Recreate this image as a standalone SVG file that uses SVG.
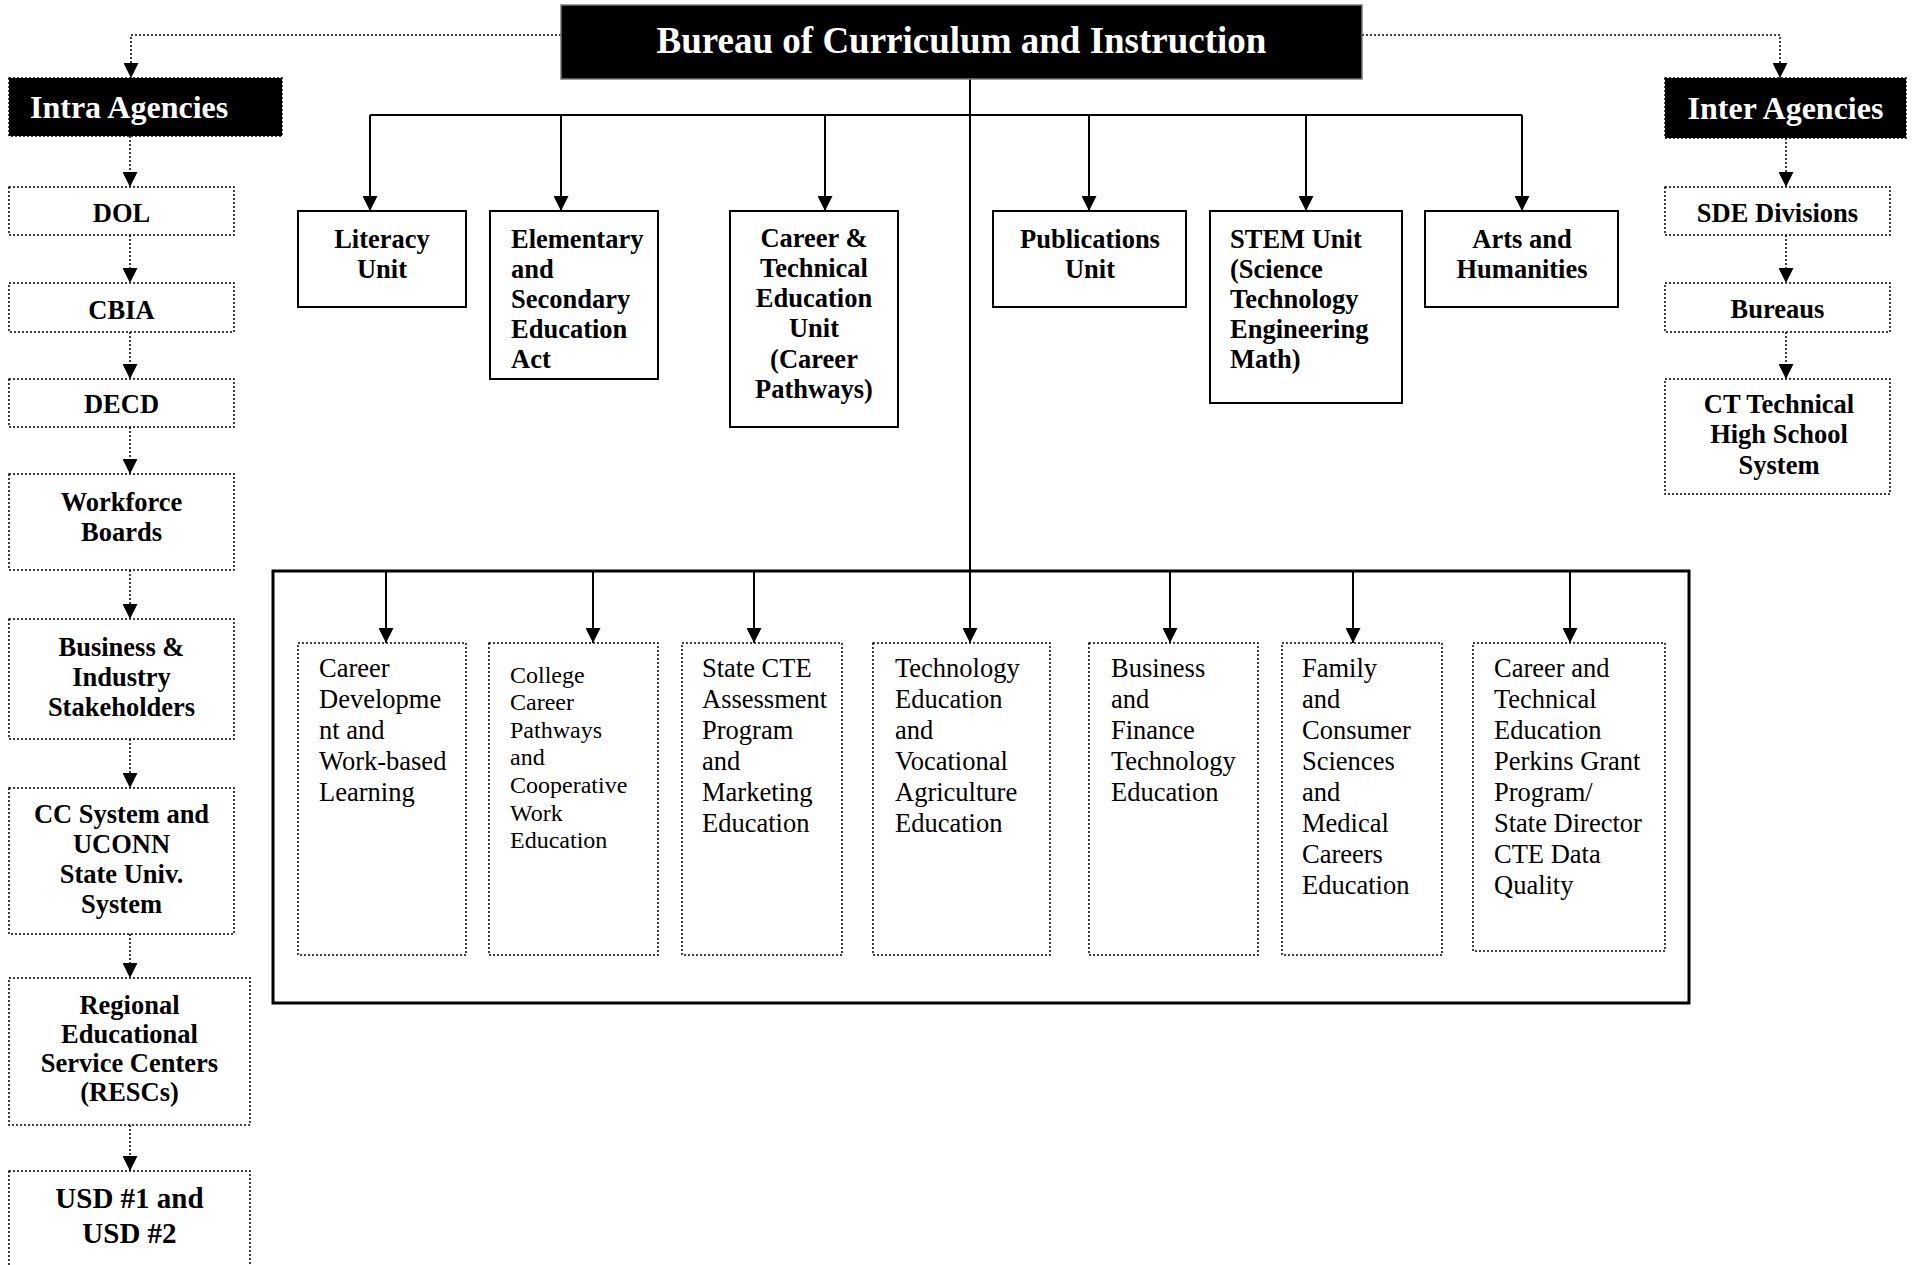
<svg xmlns="http://www.w3.org/2000/svg" width="1913" height="1265" viewBox="0 0 1913 1265">
<defs>
<marker id="ah" markerWidth="15" markerHeight="15" refX="15" refY="7.5" orient="auto" markerUnits="userSpaceOnUse">
<path d="M0,0 L15,7.5 L0,15 z" fill="#000"/>
</marker>
</defs>
<style>
.b{font-family:"Liberation Serif","Times New Roman",serif;font-weight:bold;font-size:26.5px;fill:#000}
.r{font-family:"Liberation Serif","Times New Roman",serif;font-size:26.5px;fill:#000}
.s{font-size:24px}
.c{text-anchor:middle}
.w{fill:#fff}
.solid{fill:#fff;stroke:#000;stroke-width:2}
.dot{fill:#fff;stroke:#000;stroke-width:1.5;stroke-dasharray:2,2}
.dark{fill:#000;stroke:#000;stroke-width:1.5;stroke-dasharray:2,2}
.ln{fill:none;stroke:#000;stroke-width:2}
.dl{fill:none;stroke:#000;stroke-width:1.5;stroke-dasharray:2,2}
</style>
<rect width="1913" height="1265" fill="#fff"/>

<g id="connectors">
<path class="dl" d="M561,35 H131 V78" marker-end="url(#ah)"/>
<path class="dl" d="M1362,35 H1780 V78" marker-end="url(#ah)"/>
<path class="dl" d="M130,136 V187" marker-end="url(#ah)"/>
<path class="dl" d="M130,235 V283" marker-end="url(#ah)"/>
<path class="dl" d="M130,332 V379" marker-end="url(#ah)"/>
<path class="dl" d="M130,427 V474" marker-end="url(#ah)"/>
<path class="dl" d="M130,570 V619" marker-end="url(#ah)"/>
<path class="dl" d="M130,739 V788" marker-end="url(#ah)"/>
<path class="dl" d="M130,934 V978" marker-end="url(#ah)"/>
<path class="dl" d="M130,1125 V1171" marker-end="url(#ah)"/>
<path class="dl" d="M1786,138 V187" marker-end="url(#ah)"/>
<path class="dl" d="M1786,235 V283" marker-end="url(#ah)"/>
<path class="dl" d="M1786,332 V379" marker-end="url(#ah)"/>
<path class="ln" d="M370,115 H1522"/>
<path class="ln" d="M370,115 V211" marker-end="url(#ah)"/>
<path class="ln" d="M561,115 V211" marker-end="url(#ah)"/>
<path class="ln" d="M825,115 V211" marker-end="url(#ah)"/>
<path class="ln" d="M1089,115 V211" marker-end="url(#ah)"/>
<path class="ln" d="M1306,115 V211" marker-end="url(#ah)"/>
<path class="ln" d="M1522,115 V211" marker-end="url(#ah)"/>
<path class="ln" d="M970,79 V643" marker-end="url(#ah)"/>
<path class="ln" d="M386,571 V643" marker-end="url(#ah)"/>
<path class="ln" d="M593,571 V643" marker-end="url(#ah)"/>
<path class="ln" d="M754,571 V643" marker-end="url(#ah)"/>
<path class="ln" d="M1170,571 V643" marker-end="url(#ah)"/>
<path class="ln" d="M1353,571 V643" marker-end="url(#ah)"/>
<path class="ln" d="M1570,571 V643" marker-end="url(#ah)"/>
</g>

<g id="bureau">
<rect x="561" y="5" width="801" height="74" fill="#000" stroke="#777" stroke-width="1.5"/>
<text class="b c w" x="961.5" y="53" style="font-size:37px">Bureau of Curriculum and Instruction</text>
</g>

<g id="intra">
<rect class="dark" x="9" y="78" width="273" height="58"/>
<text class="b w" x="30" y="118" style="font-size:32px">Intra Agencies</text>
</g>
<g id="inter">
<rect class="dark" x="1665" y="78" width="241" height="60"/>
<text class="b c w" x="1785.5" y="119" style="font-size:32px">Inter Agencies</text>
</g>

<g id="dol"><rect class="dot" x="9" y="187" width="225" height="48"/><text class="b c" x="121.5" y="222">DOL</text></g>
<g id="cbia"><rect class="dot" x="9" y="283" width="225" height="49"/><text class="b c" x="121.5" y="319">CBIA</text></g>
<g id="decd"><rect class="dot" x="9" y="379" width="225" height="48"/><text class="b c" x="121.5" y="413">DECD</text></g>
<g id="workforce"><rect class="dot" x="9" y="474" width="225" height="96"/><text class="b c" x="121.5" y="511">Workforce</text><text class="b c" x="121.5" y="541">Boards</text></g>
<g id="business"><rect class="dot" x="9" y="619" width="225" height="120"/><text class="b c" x="121.5" y="656">Business &amp;</text><text class="b c" x="121.5" y="686">Industry</text><text class="b c" x="121.5" y="716">Stakeholders</text></g>
<g id="ccsystem"><rect class="dot" x="9" y="788" width="225" height="146"/><text class="b c" x="121.5" y="823">CC System and</text><text class="b c" x="121.5" y="853">UCONN</text><text class="b c" x="121.5" y="883">State Univ.</text><text class="b c" x="121.5" y="913">System</text></g>
<g id="rescs"><rect class="dot" x="9" y="978" width="241" height="147"/><text class="b c" x="129.5" y="1014">Regional</text><text class="b c" x="129.5" y="1043">Educational</text><text class="b c" x="129.5" y="1072">Service Centers</text><text class="b c" x="129.5" y="1101">(RESCs)</text></g>
<g id="usd"><rect class="dot" x="9" y="1171" width="241" height="120"/><text class="b c" x="129.5" y="1208" style="font-size:29px">USD #1 and</text><text class="b c" x="129.5" y="1243" style="font-size:29px">USD #2</text></g>

<g id="sde"><rect class="dot" x="1665" y="187" width="225" height="48"/><text class="b c" x="1777.5" y="222">SDE Divisions</text></g>
<g id="bureaus"><rect class="dot" x="1665" y="283" width="225" height="49"/><text class="b c" x="1777.5" y="318">Bureaus</text></g>
<g id="cttech"><rect class="dot" x="1665" y="379" width="225" height="115"/><text class="b c" x="1779" y="413">CT Technical</text><text class="b c" x="1779" y="443">High School</text><text class="b c" x="1779" y="474">System</text></g>

<g id="literacy"><rect class="solid" x="298" y="211" width="168" height="96"/><text class="b c" x="382" y="248">Literacy</text><text class="b c" x="382" y="278">Unit</text></g>
<g id="esea"><rect class="solid" x="490" y="211" width="168" height="168"/><text class="b" x="511" y="248">Elementary</text><text class="b" x="511" y="278">and</text><text class="b" x="511" y="308">Secondary</text><text class="b" x="511" y="338">Education</text><text class="b" x="511" y="368">Act</text></g>
<g id="cte"><rect class="solid" x="730" y="211" width="168" height="216"/><text class="b c" x="814" y="247">Career &amp;</text><text class="b c" x="814" y="277">Technical</text><text class="b c" x="814" y="307">Education</text><text class="b c" x="814" y="337">Unit</text><text class="b c" x="814" y="368">(Career</text><text class="b c" x="814" y="398">Pathways)</text></g>
<g id="publications"><rect class="solid" x="993" y="211" width="193" height="96"/><text class="b c" x="1090" y="248">Publications</text><text class="b c" x="1090" y="278">Unit</text></g>
<g id="stem"><rect class="solid" x="1210" y="211" width="192" height="192"/><text class="b" x="1230" y="248">STEM Unit</text><text class="b" x="1230" y="278">(Science</text><text class="b" x="1230" y="308">Technology</text><text class="b" x="1230" y="338">Engineering</text><text class="b" x="1230" y="368">Math)</text></g>
<g id="arts"><rect class="solid" x="1425" y="211" width="193" height="96"/><text class="b c" x="1522" y="248">Arts and</text><text class="b c" x="1522" y="278">Humanities</text></g>

<g id="frame"><rect x="273" y="571" width="1416" height="432" fill="none" stroke="#000" stroke-width="3"/></g>

<g id="careerdev"><rect class="dot" x="298" y="643" width="168" height="312"/>
<text class="r" x="319" y="677">Career</text><text class="r" x="319" y="708">Developme</text><text class="r" x="319" y="739">nt and</text><text class="r" x="319" y="770">Work-based</text><text class="r" x="319" y="801">Learning</text></g>
<g id="college"><rect class="dot" x="489" y="643" width="169" height="312"/>
<text class="r s" x="510" y="683">College</text><text class="r s" x="510" y="710">Career</text><text class="r s" x="510" y="738">Pathways</text><text class="r s" x="510" y="765">and</text><text class="r s" x="510" y="793">Cooperative</text><text class="r s" x="510" y="821">Work</text><text class="r s" x="510" y="848">Education</text></g>
<g id="statecte"><rect class="dot" x="682" y="643" width="160" height="312"/>
<text class="r" x="702" y="677">State CTE</text><text class="r" x="702" y="708">Assessment</text><text class="r" x="702" y="739">Program</text><text class="r" x="702" y="770">and</text><text class="r" x="702" y="801">Marketing</text><text class="r" x="702" y="832">Education</text></g>
<g id="teched"><rect class="dot" x="873" y="643" width="177" height="312"/>
<text class="r" x="895" y="677">Technology</text><text class="r" x="895" y="708">Education</text><text class="r" x="895" y="739">and</text><text class="r" x="895" y="770">Vocational</text><text class="r" x="895" y="801">Agriculture</text><text class="r" x="895" y="832">Education</text></g>
<g id="busfin"><rect class="dot" x="1089" y="643" width="169" height="312"/>
<text class="r" x="1111" y="677">Business</text><text class="r" x="1111" y="708">and</text><text class="r" x="1111" y="739">Finance</text><text class="r" x="1111" y="770">Technology</text><text class="r" x="1111" y="801">Education</text></g>
<g id="family"><rect class="dot" x="1282" y="643" width="160" height="312"/>
<text class="r" x="1302" y="677">Family</text><text class="r" x="1302" y="708">and</text><text class="r" x="1302" y="739">Consumer</text><text class="r" x="1302" y="770">Sciences</text><text class="r" x="1302" y="801">and</text><text class="r" x="1302" y="832">Medical</text><text class="r" x="1302" y="863">Careers</text><text class="r" x="1302" y="894">Education</text></g>
<g id="perkins"><rect class="dot" x="1473" y="643" width="192" height="308"/>
<text class="r" x="1494" y="677">Career and</text><text class="r" x="1494" y="708">Technical</text><text class="r" x="1494" y="739">Education</text><text class="r" x="1494" y="770">Perkins Grant</text><text class="r" x="1494" y="801">Program/</text><text class="r" x="1494" y="832">State Director</text><text class="r" x="1494" y="863">CTE Data</text><text class="r" x="1494" y="894">Quality</text></g>
</svg>
